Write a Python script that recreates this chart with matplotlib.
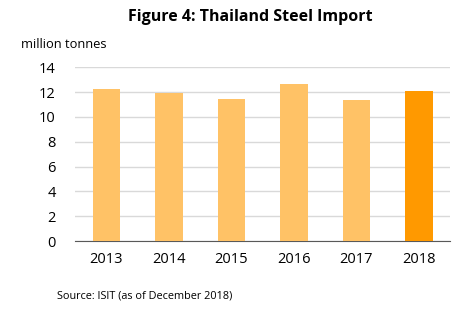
import matplotlib
matplotlib.use('Agg')
import matplotlib.pyplot as plt

years = ['2013', '2014', '2015', '2016', '2017', '2018']
imports = [12.25, 11.93, 11.45, 12.65, 11.37, 12.09]
bar_colors = ['#FFC266'] * 5 + ['#FF9900']

plt.rcParams['font.family'] = ['Open Sans', 'DejaVu Sans']

fig = plt.figure(figsize=(4.56, 3.09), dpi=100)
ax = fig.add_axes([0.1645, 0.22, 0.8225, 0.562])

x = range(len(years))
ax.bar(x, imports, width=0.44, color=bar_colors, zorder=3)
ax.set_xlim(-0.5, 5.5)
ax.set_ylim(0, 14)
ax.set_yticks(range(0, 15, 2))
ax.set_xticks(list(x))
ax.set_xticklabels(years)
ax.grid(axis='y', color='#d9d9d9', linewidth=1, zorder=0)
for s in ['top', 'right', 'left']:
    ax.spines[s].set_visible(False)
ax.spines['bottom'].set_color('#595959')
ax.tick_params(axis='both', length=0, labelsize=10.5, colors='#000000')
ax.tick_params(axis='y', pad=14)
ax.tick_params(axis='x', pad=8)

fig.text(0.548, 0.945, 'Figure 4: Thailand Steel Import', ha='center', va='center',
         fontsize=11.5, fontweight='bold')
fig.text(0.045, 0.855, 'million tonnes', ha='left', va='center', fontsize=9.3)
fig.text(0.125, 0.042, 'Source: ISIT (as of December 2018)', ha='left', va='center', fontsize=7.8)

fig.savefig('out.png', dpi=100)
